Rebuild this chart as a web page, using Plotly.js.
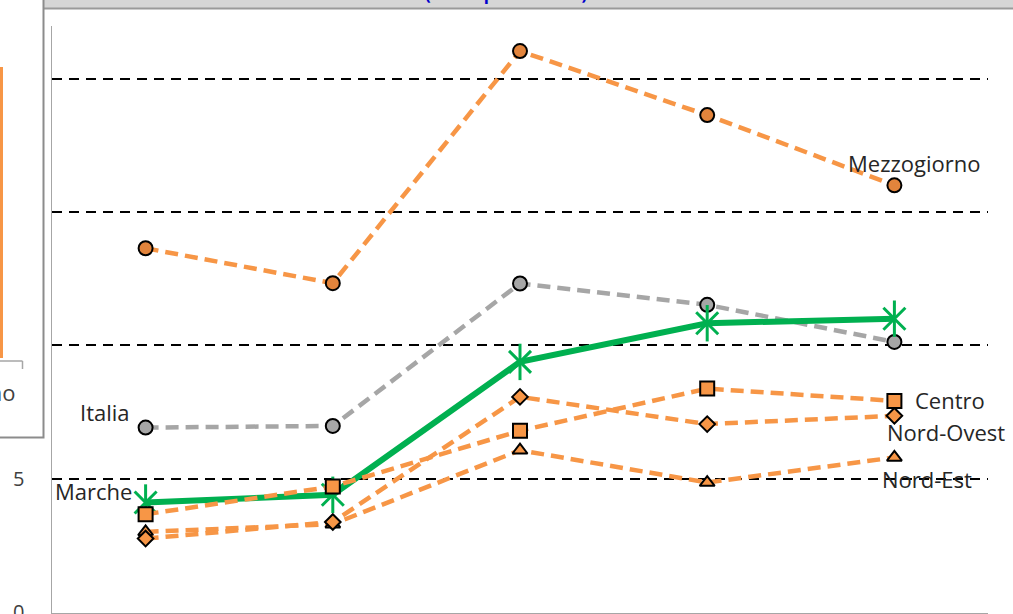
<!DOCTYPE html>
<html>
<head>
<meta charset="utf-8">
<script src="https://cdn.plot.ly/plotly-3.0.1.min.js"></script>
<style>html,body{margin:0;padding:0;background:#fff;}#chart{width:1013px;height:614px;}</style>
</head>
<body>
<div id="chart"></div>
<script>
// ---- data ----
const categories = ['2007', '2008', '2009', '2010', '2011'];
const mezzogiorno = [13.64, 12.33, 21.03, 18.63, 16.0];
const italia      = [6.92, 6.98, 12.32, 11.52, 10.13];
const marche      = [4.11, 4.40, 9.38, 10.83, 11.0];
const centro      = [3.67, 4.71, 6.80, 8.38, 7.92];
const nordOvest   = [2.76, 3.38, 8.07, 7.05, 7.36];
const nordEst     = [3.01, 3.30, 6.07, 4.86, 5.80];
const yTicks      = [0, 5, 10, 15, 20];
const titleText   = '(valori percentuali)';
const leftChartCategoryLabel = 'Mezzogiorno';

// ---- layout geometry ----
const W = 1013, H = 614;
const M = {l: 52, r: 25, t: 26, b: 1};
const PW = W - M.l - M.r, PH = H - M.t - M.b;
const px = x => (x - M.l) / PW;          // pixel -> paper x
const py = y => (H - M.b - y) / PH;      // pixel -> paper y

const ORANGE = '#F79646', ORANGE_D = '#E2843C', GREY = '#A6A6A6', GREEN = '#00B050';
const dashO = '13px,7px';

function series(name, vals, color, width, dash, symbol, fill, size) {
  return {
    type: 'scatter', mode: 'lines+markers', name: name,
    x: categories, y: vals,
    line: {color: color, width: width, dash: dash},
    marker: {symbol: symbol, color: fill, size: size, line: {color: '#000', width: 2}},
    hoverinfo: 'x+y+name'
  };
}

const traces = [
  series('Italia', italia, GREY, 4.5, dashO, 'circle', GREY, 14),
  series('Mezzogiorno', mezzogiorno, ORANGE, 4.5, dashO, 'circle', ORANGE_D, 14),
  series('Nord-Est', nordEst, ORANGE, 4.5, dashO, 'triangle-up', ORANGE, 13),
  series('Nord-Ovest', nordOvest, ORANGE, 4.5, dashO, 'diamond', ORANGE, 12),
  {
    type: 'scatter', mode: 'lines+markers', name: 'Marche',
    x: categories, y: marche,
    line: {color: GREEN, width: 6},
    marker: {symbol: 'x-thin-open', size: 22, color: GREEN, line: {color: GREEN, width: 3}}
  },
  {
    type: 'scatter', mode: 'markers', name: 'Marche', showlegend: false,
    x: categories, y: marche,
    marker: {symbol: 'line-ns-open', size: 26, color: GREEN, line: {color: GREEN, width: 3}}
  },
  series('Centro', centro, ORANGE, 4.5, dashO, 'square', ORANGE, 14)
];

const lab = {family: 'Open Sans, sans-serif', size: 22, color: '#262626'};
// category axes place annotations by category index
function label(text, idx, vals, xs, ys) {
  return {x: idx, y: vals[idx], xref: 'x', yref: 'y', text: text,
          showarrow: false, xshift: xs, yshift: ys, font: lab};
}

const annotations = [
  label('Mezzogiorno', 4, mezzogiorno, 20, 22),
  label('Italia', 0, italia, -41, 16),
  label('Marche', 0, marche, -52, 12),
  label('Centro', 4, centro, 56, 1),
  label('Nord-Ovest', 4, nordOvest, 52, -16),
  label('Nord-Est', 4, nordEst, 33, -22),
  // title (only its lower edge is inside the picture)
  {xref: 'paper', yref: 'paper', x: px(506), y: py(7), xanchor: 'center', yanchor: 'bottom',
   text: '<b>' + titleText + '</b>', showarrow: false,
   font: {family: 'Open Sans, sans-serif', size: 17, color: '#0000CC'}},
  // category label of the chart lying behind on the left (only its end is visible)
  {xref: 'paper', yref: 'paper', x: px(17), y: py(392), xanchor: 'right', yanchor: 'middle',
   text: leftChartCategoryLabel, showarrow: false,
   font: {family: 'Open Sans, sans-serif', size: 22, color: '#404040'}}
];

const shapes = [
  // grey title bar of the chart
  {type: 'rect', xref: 'paper', yref: 'paper', x0: px(44), x1: px(1020), y0: py(-5), y1: py(8),
   fillcolor: '#D6D6D6', line: {width: 0}, layer: 'above'},
  {type: 'line', xref: 'paper', yref: 'paper', x0: px(44), x1: px(1020), y0: py(8.5), y1: py(8.5),
   line: {color: '#9A9A9A', width: 2}, layer: 'above'},
  // overlapping chart on the left
  {type: 'rect', xref: 'paper', yref: 'paper', x0: px(-10), x1: px(43.5), y0: py(-5), y1: py(437.5),
   fillcolor: '#FFFFFF', line: {color: '#8C8C8C', width: 2}, layer: 'above'},
  {type: 'rect', xref: 'paper', yref: 'paper', x0: px(-5), x1: px(3), y0: py(358), y1: py(67),
   fillcolor: ORANGE, line: {width: 0}, layer: 'above'},
  {type: 'line', xref: 'paper', yref: 'paper', x0: px(-5), x1: px(22.5), y0: py(361), y1: py(361),
   line: {color: '#A6A6A6', width: 1.5}, layer: 'above'},
  {type: 'line', xref: 'paper', yref: 'paper', x0: px(22.5), x1: px(22.5), y0: py(361), y1: py(369),
   line: {color: '#A6A6A6', width: 1.5}, layer: 'above'}
];

const layout = {
  width: W, height: H,
  margin: M,
  paper_bgcolor: '#FFFFFF', plot_bgcolor: '#FFFFFF',
  showlegend: false,
  font: {family: 'Open Sans, sans-serif'},
  xaxis: {
    type: 'category', range: [-0.5, 4.5],
    showgrid: false, zeroline: false, showticklabels: false, ticks: '',
    showline: true, linecolor: '#A6A6A6', linewidth: 1.5
  },
  yaxis: {
    range: [-0.03, 21.97], tickmode: 'array', tickvals: yTicks,
    showgrid: true, gridcolor: '#000000', gridwidth: 2, griddash: '10px,7px',
    zeroline: false, showline: true, linecolor: '#A6A6A6', linewidth: 1.5,
    ticks: '', ticklabelstandoff: 22, ticklabeloverflow: 'allow',
    tickfont: {family: 'Open Sans, sans-serif', size: 20, color: '#404040'}
  },
  annotations: annotations,
  shapes: shapes
};

Plotly.newPlot('chart', traces, layout, {displayModeBar: false, staticPlot: true});
</script>
</body>
</html>
